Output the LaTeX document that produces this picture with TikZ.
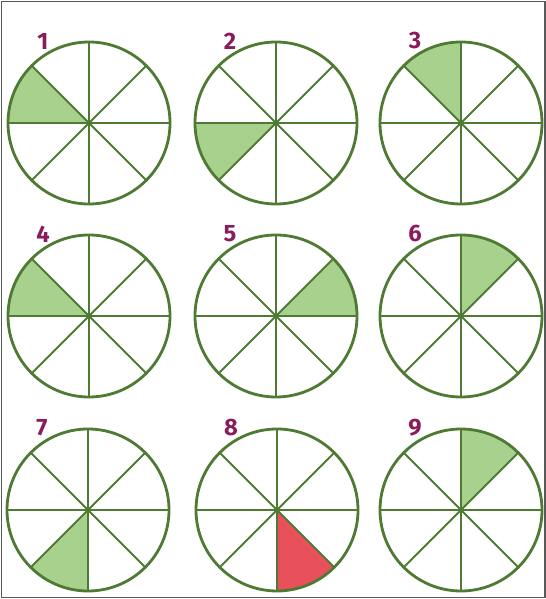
\documentclass[tikz,border=0pt]{standalone}
\usepackage{fontspec}
\setsansfont{Fira Sans}
\usetikzlibrary{calc}
\definecolor{rimgreen}{HTML}{4E7A33}
\definecolor{sectgreen}{HTML}{A9D18E}
\definecolor{sectred}{HTML}{E8505B}
\definecolor{numpurple}{HTML}{8A1C5C}

\begin{document}
\begin{tikzpicture}[x=0.02cm,y=0.02cm,
    rim/.style={draw=rimgreen,line width=1.6pt},
    spoke/.style={draw=rimgreen,line width=1.1pt},
    numlabel/.style={font=\sffamily\bfseries\fontsize{13.5}{14}\selectfont,text=numpurple,inner sep=0pt}]
    \useasboundingbox (0,0) rectangle (546,599);
    \draw[gray!70!black,line width=0.6pt] (1.5,1.5) rectangle (545,597.5);
    % centre x / centre y / number / first angle of the shaded part / colour
    \foreach \cx/\cy/\n/\a/\col in {89/476/1/135/sectgreen, 276/476/2/180/sectgreen, 461/476/3/90/sectgreen,
                                    89/283/4/135/sectgreen, 276/283/5/0/sectgreen, 461/283/6/45/sectgreen,
                                    88/89/7/225/sectgreen, 277/89/8/270/sectred, 461/89/9/45/sectgreen} {
        \coordinate (c\n) at (\cx,\cy);
        \fill[\col] (c\n) -- ++(\a:81) arc[start angle=\a,end angle=\a+45,radius=81] -- cycle;
        \foreach \s in {0,45,90,135}
            \draw[spoke] ($(c\n)+(\s:81)$) -- ($(c\n)+(\s+180:81)$);
        \draw[rim] (c\n) circle[radius=81];
        \node[numlabel] (n\n) at ($(c\n)+(-46,82)$) {\n};
    }
\end{tikzpicture}
\end{document}
